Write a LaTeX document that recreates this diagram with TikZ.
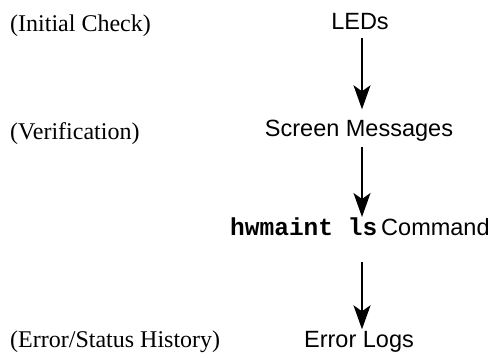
\documentclass[tikz,border=0pt]{standalone}
\usepackage{fontspec}
\setmainfont{Liberation Serif}
\newfontfamily\sansf{Liberation Sans}
\newfontfamily\monof{Liberation Mono}
\usetikzlibrary{arrows.meta}
\begin{document}
\begin{tikzpicture}[x=1pt,y=-1pt]
\tikzset{
  lab/.style={inner sep=0pt, anchor=base west, font=\fontsize{24}{28}\selectfont},
  stage/.style={inner sep=0pt, anchor=base, text height=0pt, text depth=0pt, font=\sansf\fontsize{23.5}{28}\selectfont},
  flow/.style={-{Stealth[length=24pt,width=17pt,inset=6pt]}, line width=1.6pt}
}
\useasboundingbox (0,0) rectangle (493,358);
% phase labels
\node[lab] (l1) at (10,31.5) {(Initial Check)};
\node[lab] (l2) at (10,140) {(Verification)};
\node[lab] (l3) at (10,348) {(Error/Status History)};
% stages
\node[stage] (leds) at (360,29.5) {LEDs};
\node[stage] (screen) at (359,137) {Screen Messages};
\node[stage, anchor=base west] (cmd) at (230,236) {{\monof\bfseries\fontsize{24.5}{28}\selectfont hwmaint ls}\hspace{4pt}Command};
\node[stage] (logs) at (359,348) {Error Logs};
% arrows
\draw[flow, shorten <=7.5pt, shorten >=27pt] ([xshift=2pt]leds.south) -- ([xshift=3pt]screen.north);
\draw[flow, shorten <=9pt, shorten >=19pt] ([xshift=3pt]screen.south) -- ([xshift=3pt]screen.south |- cmd.base);
\draw[flow, shorten <=26pt, shorten >=18pt] ([xshift=3pt]logs.north |- cmd.base) -- ([xshift=3pt]logs.north);
\end{tikzpicture}
\end{document}
